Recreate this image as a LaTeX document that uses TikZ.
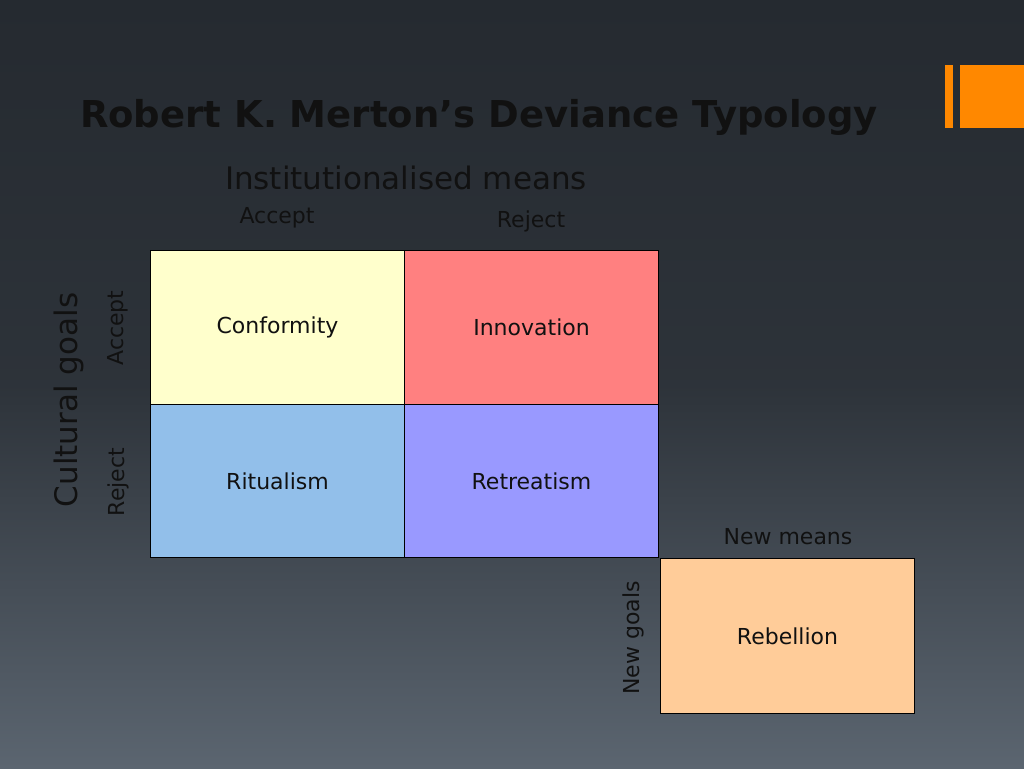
\documentclass[tikz,border=0pt]{standalone}
\usepackage{fontspec}
\setmainfont{DejaVu Sans}
\definecolor{bgtop}{HTML}{252A30}
\definecolor{bgbot}{HTML}{5B6570}
\definecolor{ink}{HTML}{111111}
\definecolor{barorange}{HTML}{FF8800}
\definecolor{conformcol}{HTML}{FFFFCC}
\definecolor{innovcol}{HTML}{FF8080}
\definecolor{ritualcol}{HTML}{92BFEA}
\definecolor{retreatcol}{HTML}{9999FF}
\definecolor{rebelcol}{HTML}{FFCC99}
\tikzset{
  cell/.style={draw=black,line width=1pt,minimum width=254pt,minimum height=154pt,
    anchor=north west,inner sep=0pt,font=\fontsize{22}{24}\selectfont,text=ink},
  axis/.style={text=ink,font=\fontsize{22}{24}\selectfont},
  bigaxis/.style={text=ink,font=\fontsize{31}{34}\selectfont}
}
\begin{document}
\begin{tikzpicture}[x=1pt,y=-1pt]
  \shade[top color=bgtop,bottom color=bgbot,middle color=bgtop!85!bgbot,shading angle=0]
    (0,0) rectangle (1024,768);
  \useasboundingbox (0,0) rectangle (1024,768);
  % orange bars
  \fill[barorange] (945,65) rectangle (953,128);
  \fill[barorange] (960,65) rectangle (1024,128);

  \node[text=ink,font=\bfseries\fontsize{37}{40}\selectfont] (title) at (479,117) {Robert K. Merton's Deviance Typology};
  \node[bigaxis] (means) at (406,178) {Institutionalised means};
  \node[axis] (macc) at (277,218) {Accept};
  \node[axis] (mrej) at (531,221) {Reject};
  \node[bigaxis,rotate=90] (goals) at (69,400) {Cultural goals};
  \node[axis,rotate=90] (gacc) at (118,328) {Accept};
  \node[axis,rotate=90] (grej) at (118,482) {Reject};

  \node[cell,fill=conformcol] (conform) at (150,250) {Conformity};
  \node[cell,fill=innovcol] (innov) at (404,250) {Innovation};
  \node[cell,fill=ritualcol,minimum height=153pt] (ritual) at (150,404) {Ritualism};
  \node[cell,fill=retreatcol,minimum height=153pt] (retreat) at (404,404) {Retreatism};
  \node[cell,fill=rebelcol,minimum height=155pt] (rebel) at (660,558) {Rebellion};

  \node[axis] (nmeans) at (788,537) {New means};
  \node[axis,rotate=90] (ngoals) at (633,638) {New goals};
\end{tikzpicture}
\end{document}
